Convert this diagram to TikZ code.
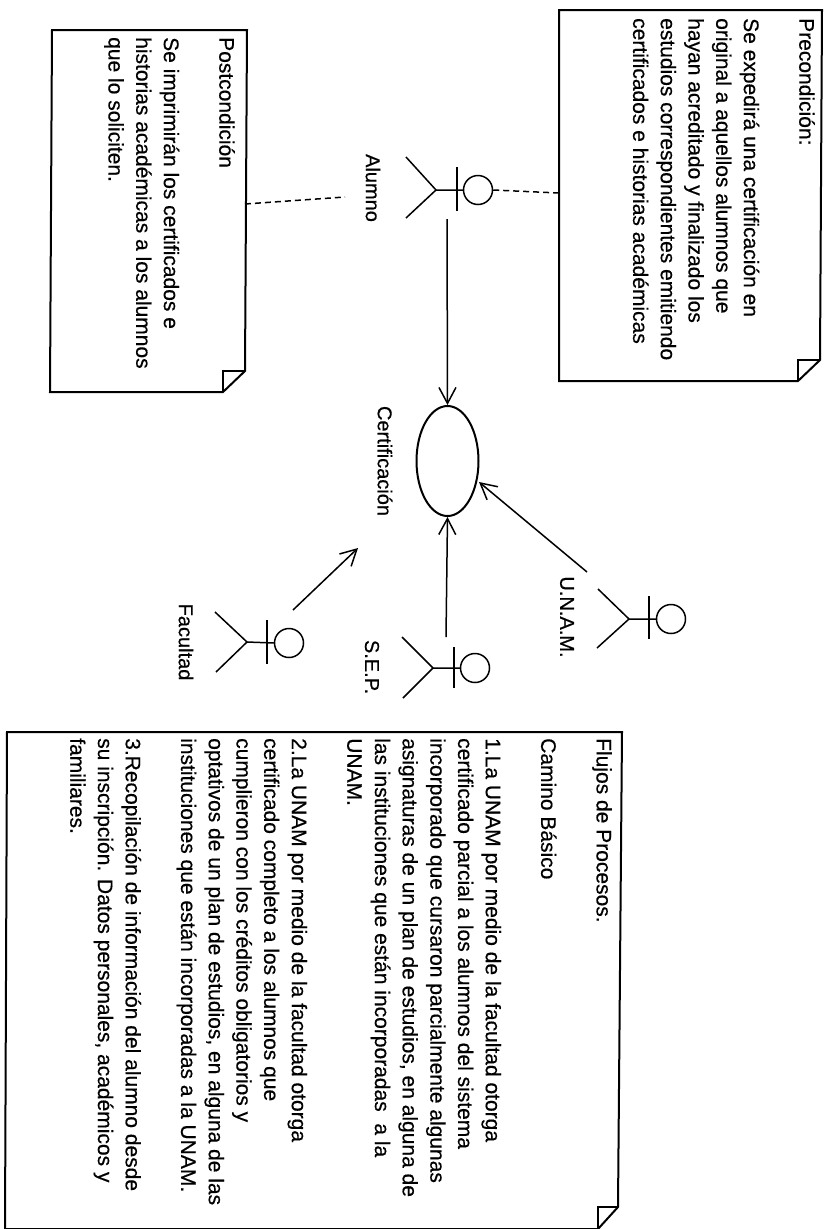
\documentclass[tikz,border=0pt]{standalone}
\usepackage{fontspec}
\setmainfont[FakeBold=0.5]{Liberation Sans}
\usetikzlibrary{shapes.geometric, arrows.meta}

\begin{document}
\begin{tikzpicture}[
        x=1pt, y=-1pt,
        nota/.style={draw=black, line width=2pt, line join=miter},
        doblez/.style={draw=black, line width=1.6pt},
        txt/.style={rotate=-90, anchor=north west, inner sep=0pt, align=left,
            font=\fontsize{21}{27.7}\selectfont},
        etiq/.style={rotate=-90, inner sep=0pt, font=\fontsize{20}{22}\selectfont},
        cabeza/.style={draw=black, circle, line width=1.5pt, minimum size=29pt, inner sep=0pt},
        palo/.style={draw=black, line width=1.5pt},
        caso/.style={draw=black, ellipse, line width=2pt, minimum width=62pt, minimum height=110pt, inner sep=0pt},
        rel/.style={-{Straight Barb[length=16pt, width=17pt, line width=1.5pt]}, line width=1.5pt},
        dep/.style={line width=1.5pt, dash pattern=on 6pt off 4pt}
    ]
        \useasboundingbox (0,0) rectangle (824,1229);

        % notas
        \draw[nota] (559,10) coordinate (preA) -- (822,10) -- (820,360) -- (798,381) -- (559,381) coordinate (preB) -- cycle;
        \draw[doblez] (798,381) -- (798,360) -- (820,360);
        \node[txt] (pretxt) at (815,18) {Precondición:\\[27.7pt]Se expedirá una certificación en\\original a aquellos alumnos que\\hayan acreditado y finalizado los\\estudios correspondientes emitiendo\\certificados e historias académicas};

        \draw[nota] (52,30) coordinate (posA) -- (247,30) -- (245,371) -- (223,392) -- (50,392) coordinate (posB) -- cycle;
        \draw[doblez] (223,392) -- (223,371) -- (245,371);
        \node[txt] (postxt) at (235,37) {Postcondición\\[27.7pt]Se imprimirán los certificados e\\historias académicas a los alumnos\\que lo soliciten.};

        \draw[nota] (7,732) -- (622,732) -- (618,1207) -- (598,1229) -- (5,1229) -- cycle;
        \draw[doblez] (598,1229) -- (598,1207) -- (618,1207);
        \node[txt] (flutxt) at (612,738) {Flujos de Procesos.\\[27.7pt]Camino Básico\\[27.7pt]1.La UNAM por medio de la facultad otorga\\certificado parcial a los alumnos del sistema\\incorporado que cursaron parcialmente algunas\\asignaturas de un plan de estudios, en alguna de\\las instituciones que están incorporadas\ \ a la\\UNAM.\\[27.7pt]2.La UNAM por medio de la facultad otorga\\certificado completo a los alumnos que\\cumplieron con los créditos obligatorios y\\optativos de un plan de estudios, en alguna de las\\instituciones que están incorporadas a la UNAM.\\[27.7pt]3.Recopilación de información del alumno desde\\su inscripción. Datos personales, académicos y\\familiares.};

        % caso de uso
        \node[caso] (cert) at (447.5,461) {};
        \node[etiq] (certlbl) at (385,461) {Certificación};

        % actores
        \node[cabeza] (alumno) at (478,190) {};
        \draw[palo] (alumno.west) -- (436,190) coordinate (alumnoC) -- (406,157);
        \draw[palo] (alumnoC) -- (406,218);
        \draw[palo] (457,167) -- (457,211);
        \node[etiq] (alumnolbl) at (373,188) {Alumno};

        \node[cabeza] (unam) at (671,619) {};
        \draw[palo] (unam.west) -- (629,619) coordinate (unamC) -- (598,589);
        \draw[palo] (unamC) -- (597,648);
        \draw[palo] (649,596) -- (649,639);
        \node[etiq] (unamlbl) at (567,617) {U.N.A.M.};

        \node[cabeza] (sep) at (475,668) {};
        \draw[palo] (sep.west) -- (433,668) coordinate (sepC) -- (402,637);
        \draw[palo] (sepC) -- (403,698);
        \draw[palo] (454,647) -- (454,688);
        \node[etiq] (seplbl) at (372,667) {S.E.P.};

        \node[cabeza] (facultad) at (289,643) {};
        \draw[palo] (facultad.west) -- (247,642) coordinate (facultadC) -- (215,612);
        \draw[palo] (facultadC) -- (216,672);
        \draw[palo] (267,620) -- (267,664);
        \node[etiq] (facultadlbl) at (186,642) {Facultad};

        % extremos libres
        \coordinate (alumnoPie) at (447,219);
        \coordinate (unamPie) at (587,572);
        \coordinate (sepPie) at (446,637);
        \coordinate (facPie) at (293,610);
        \coordinate (facFin) at (358,548);

        % relaciones
        \draw[rel] (alumnoPie) -- (cert.north);
        \draw[rel] (unamPie) -- (479,482);
        \draw[rel] (sepPie) -- (cert.south);
        \draw[rel] (facPie) -- (facFin);
        \draw[dep] (alumno.east) -- (559,193);
        \draw[dep] (245,204) -- (345,197);
    \end{tikzpicture}
\end{document}
